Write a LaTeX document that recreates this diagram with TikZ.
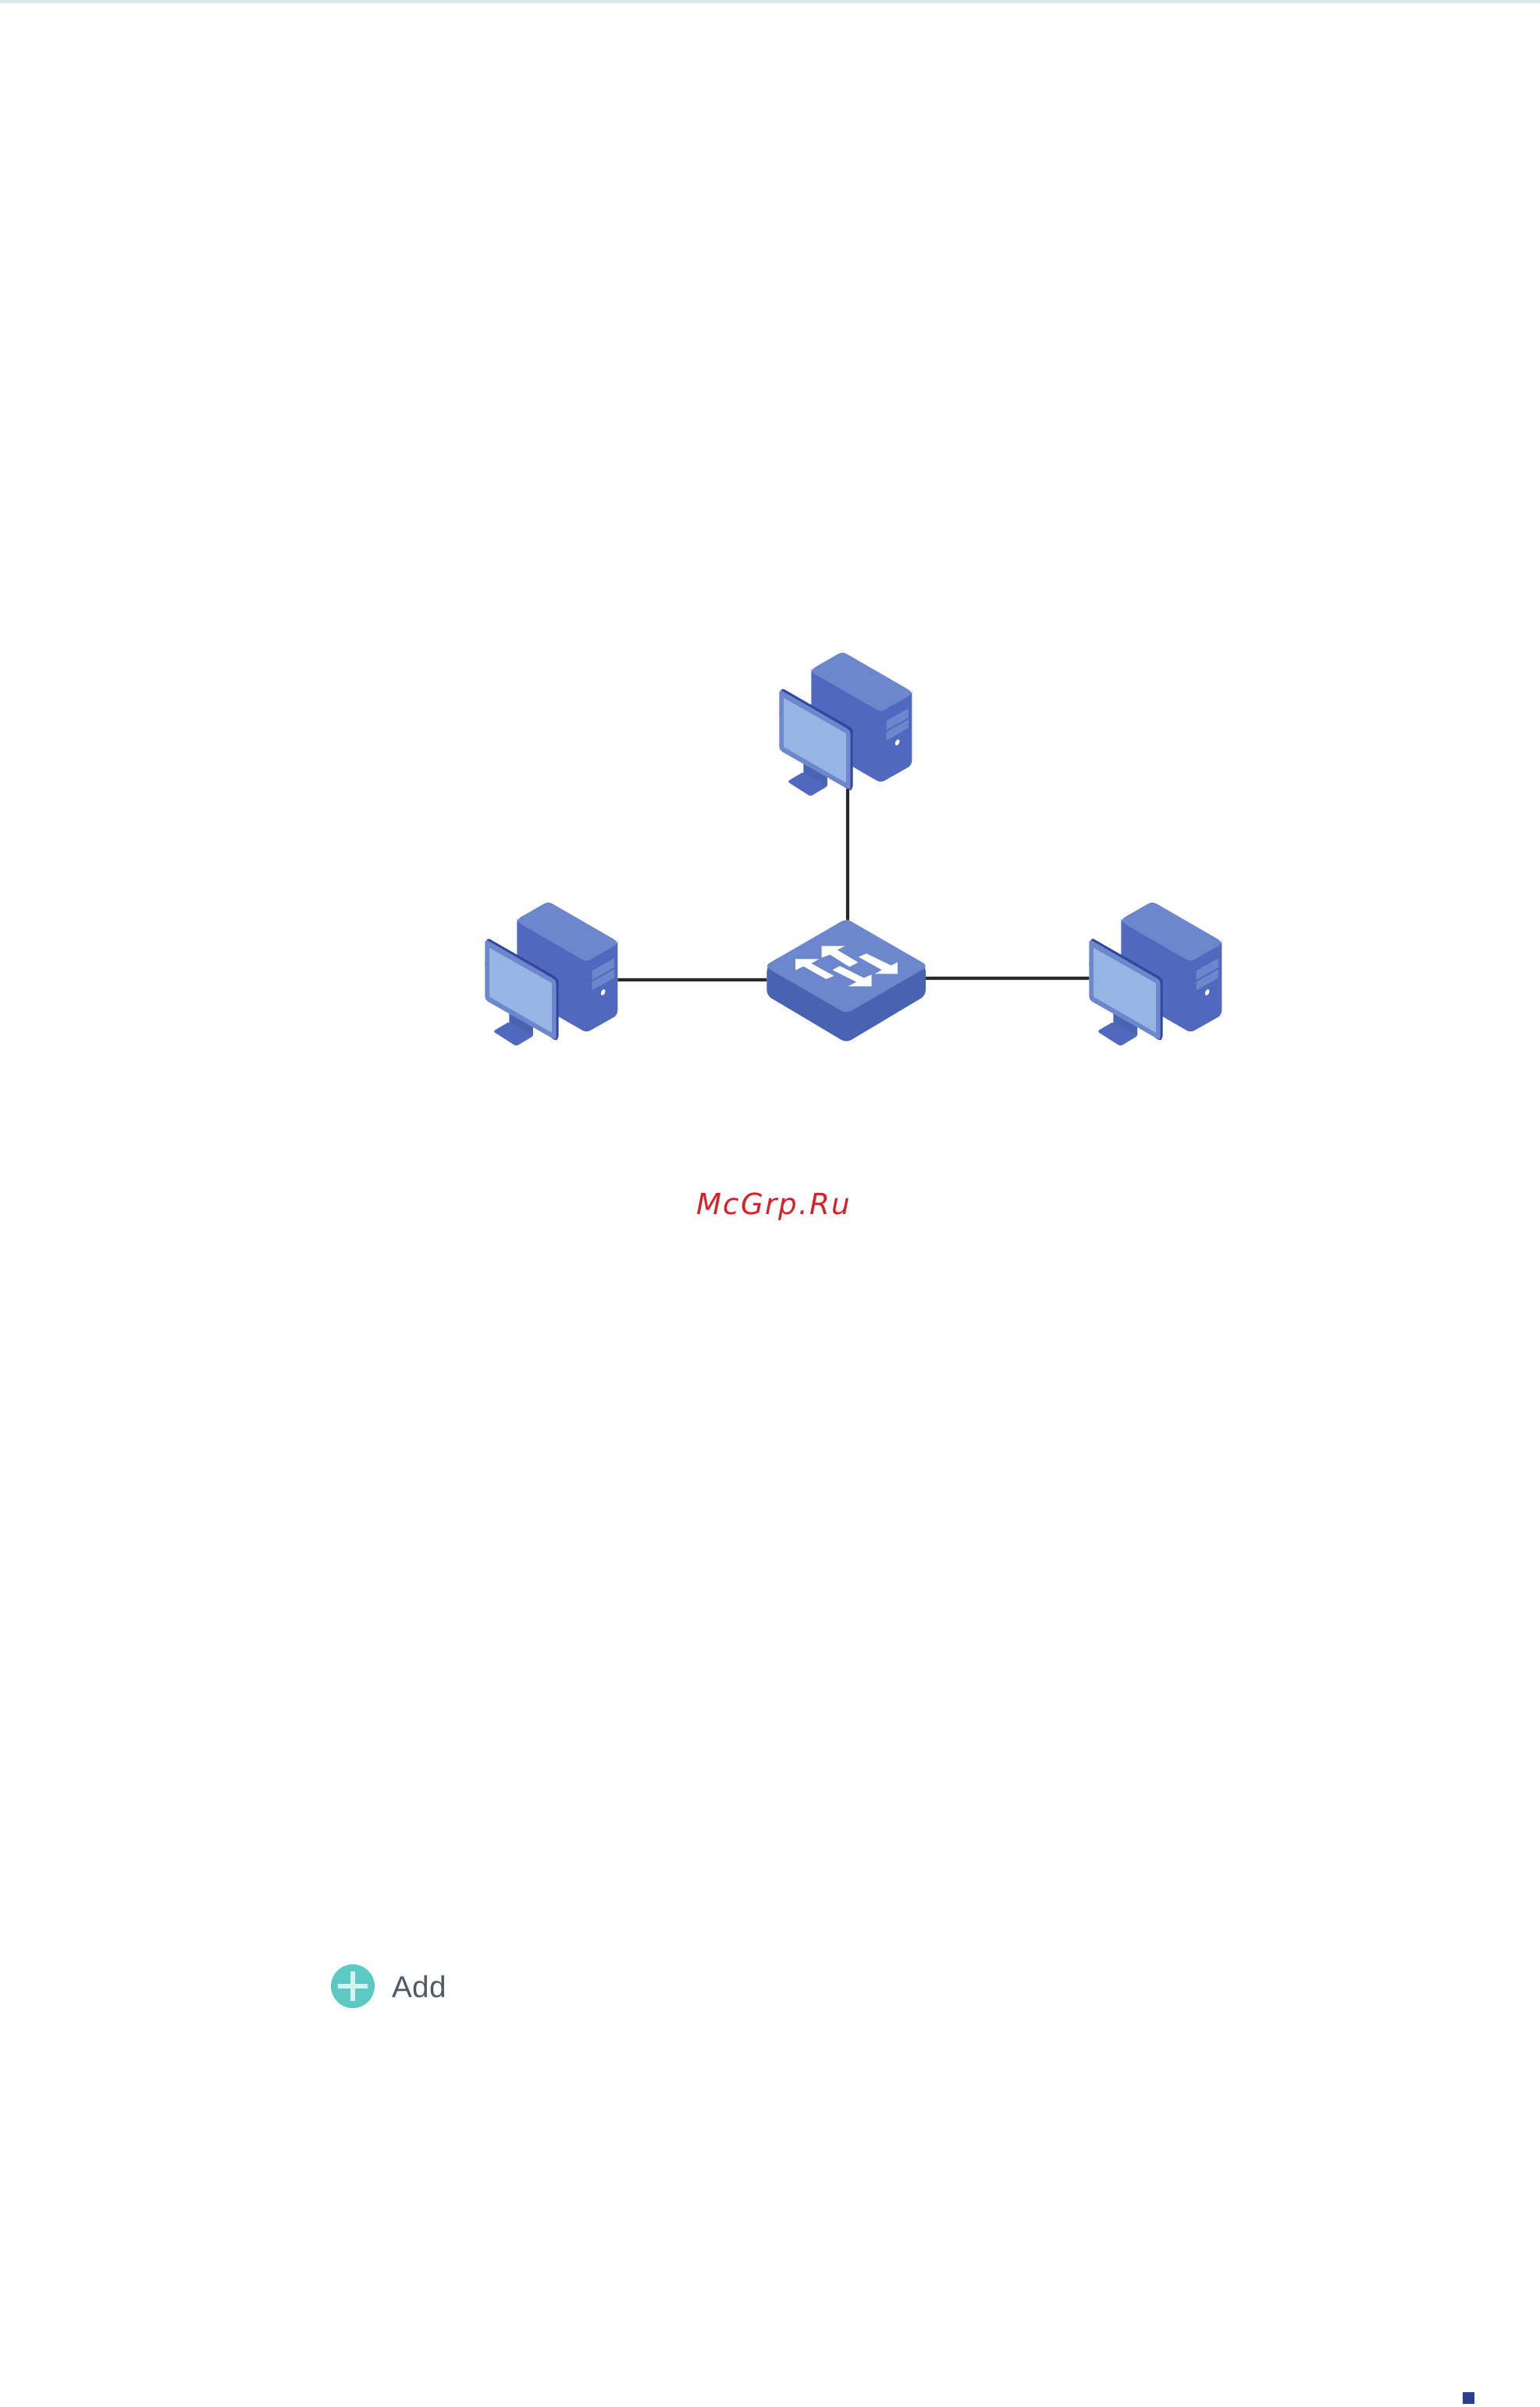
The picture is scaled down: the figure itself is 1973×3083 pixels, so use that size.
\documentclass[tikz,border=0pt]{standalone}
\usepackage{fontspec}
\usepackage{tikz}
\usetikzlibrary{positioning, calc}
\newfontfamily\markfont[LetterSpace=5.4]{DejaVu Sans}
\newfontfamily\labelfont{Liberation Sans}
\definecolor{facelight}{HTML}{6D87CD}
\definecolor{facemid}{HTML}{5068BD}
\definecolor{facedark}{HTML}{4763B2}
\definecolor{edgedark}{HTML}{33479F}
\definecolor{screenblue}{HTML}{97B5E4}
\definecolor{neckblue}{HTML}{4A64B3}
\definecolor{linkgray}{HTML}{2A2A2A}
\definecolor{addteal}{HTML}{5EC8C3}
\definecolor{addplus}{HTML}{D8F2EF}
\definecolor{addtext}{HTML}{4F5A66}
\definecolor{markred}{HTML}{D2232A}
\definecolor{cornerblue}{HTML}{2A3F8F}
\definecolor{stripgray}{HTML}{DCE6EA}
\tikzstyle{netlink} = [line width=1.15pt, draw=linkgray]
\tikzstyle{softface} = [rounded corners=1.6pt]
\tikzstyle{arrowmark} = [fill=white, draw=none]

\tikzset{
pcicon/.pic={
    % Tower
    \fill[facemid, softface] (178,113) -- (298,44) -- (565,198) -- (565,480) -- (445,548) -- (178,394) -- cycle;
    \fill[facelight, softface] (178,113) -- (298,44) -- (565,198) -- (565,207) -- (445,276) -- (178,122) -- cycle;
    \fill[facelight] (467,310) -- (552,262) -- (552,297) -- (467,345) -- cycle;
    \fill[facelight] (467,352) -- (552,305) -- (552,337) -- (467,385) -- cycle;
    \fill[white, rotate around={-25:(509,393)}] (509,393) ellipse (7.5 and 12.5);
    % Stand
    \fill[facemid, rounded corners=0.8pt] (86,543) -- (148,506) -- (242,560) -- (175,600) -- cycle;
    \fill[neckblue] (148,470) -- (240,520) -- (240,560) -- (148,508) -- cycle;
    % Monitor
    \fill[edgedark, rounded corners=1.2pt] (62,182) -- (338,340) -- (338,572) -- (322,580) -- (55,300) -- cycle;
    \fill[facelight, rounded corners=1.2pt] (55,188) -- (329,347) -- (329,578) -- (55,422) -- cycle;
    \fill[screenblue] (72,222) -- (312,358) -- (312,548) -- (72,410) -- cycle;
    % Ports
    \coordinate (-south) at (318,572);
    \coordinate (-east) at (565,345);
    \coordinate (-west) at (55,339);
},
switchicon/.pic={
    \fill[facedark, rounded corners=2pt] (67,232) -- (373,50) -- (678,232) -- (678,345) -- (373,527) -- (67,345) -- cycle;
    \fill[facelight, rounded corners=2.2pt] (57,232) -- (373,50) -- (689,232) -- (373,415) -- cycle;
    \fill[arrowmark] (278,155) -- (367,155) -- (338,170) -- (418,218) -- (385,235) -- (310,188) -- (278,200) -- cycle;
    \fill[arrowmark] (177,205) -- (268,205) -- (238,222) -- (325,270) -- (295,282) -- (208,233) -- (177,248) -- cycle;
    \fill[arrowmark] (450,184) -- (545,230) -- (570,217) -- (570,262) -- (482,262) -- (510,247) -- (420,197) -- cycle;
    \fill[arrowmark] (348,232) -- (440,278) -- (470,265) -- (470,310) -- (380,310) -- (412,293) -- (320,247) -- cycle;
    % Ports
    \coordinate (-north) at (378,56);
    \coordinate (-west) at (67,285);
    \coordinate (-east) at (678,279);
}}

\begin{document}
\begin{tikzpicture}[x=0.01cm, y=-0.01cm]

\path[use as bounding box, fill=white] (0,0) rectangle (1973,3083);
\fill[stripgray] (0,0) rectangle (1973,4);

% Devices
\pic[scale=0.3333] (pctop) at (980,820) {pcicon};
\pic[scale=0.3333] (pcleft) at (603,1140) {pcicon};
\pic[scale=0.3333] (pcright) at (1377,1140) {pcicon};
\pic[scale=0.3333] (switch) at (960,1160) {switchicon};

% Links
\draw[netlink] (pctop-south) -- (switch-north);
\draw[netlink] (pcleft-east) -- (switch-west);
\draw[netlink] (switch-east) -- (pcright-west);

% Watermark
\node[anchor=base west, inner sep=0pt, text=markred, font=\markfont\itshape\fontsize{10.6pt}{12pt}\selectfont] (mark) at (892,1555) {McGrp.Ru};

% Add button
\node[circle, fill=addteal, minimum size=0.56cm, inner sep=0pt] (addicon) at (452,2544) {};
\draw[addplus, line width=1.6pt] ($(addicon.center)+(-19,0)$) -- ($(addicon.center)+(19,0)$);
\draw[addplus, line width=1.6pt] ($(addicon.center)+(0,-19)$) -- ($(addicon.center)+(0,19)$);
\node[anchor=base west, inner sep=0pt, text=addtext, font=\labelfont\fontsize{11pt}{13pt}\selectfont] (addlabel) at (502,2558) {Add};

% Page mark
\node[rectangle, fill=cornerblue, minimum size=0.15cm, inner sep=0pt] (pagemark) at (1881.5,3071.5) {};

\end{tikzpicture}
\end{document}
